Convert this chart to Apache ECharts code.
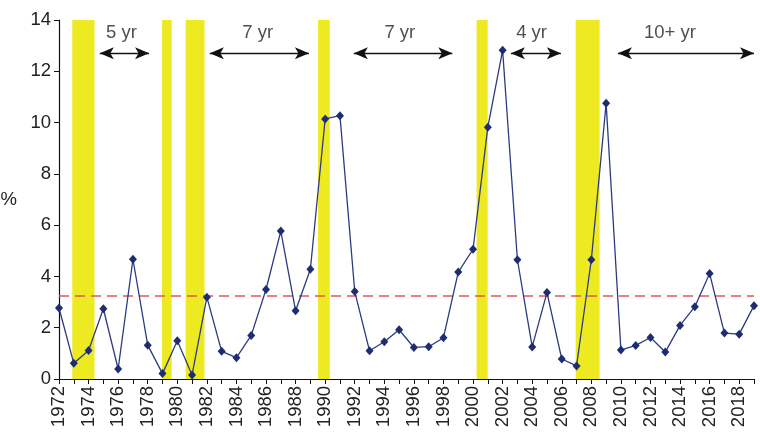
<!DOCTYPE html>
<html><head><meta charset="utf-8">
<script src="https://cdn.jsdelivr.net/npm/echarts@6/dist/echarts.min.js"></script>
<style>html,body{margin:0;padding:0;background:#fff}#c{width:760px;height:434px}</style>
</head><body><div id="c"></div>
<script>
const years = [1972,1973,1974,1975,1976,1977,1978,1979,1980,1981,1982,1983,1984,1985,1986,1987,1988,1989,1990,1991,1992,1993,1994,1995,1996,1997,1998,1999,2000,2001,2002,2003,2004,2005,2006,2007,2008,2009,2010,2011,2012,2013,2014,2015,2016,2017,2018,2019];
const values = [2.77,0.61,1.11,2.74,0.39,4.67,1.32,0.21,1.49,0.16,3.19,1.08,0.83,1.70,3.49,5.77,2.66,4.28,10.14,10.27,3.41,1.10,1.45,1.92,1.23,1.26,1.61,4.17,5.06,9.82,12.82,4.65,1.25,3.37,0.78,0.51,4.65,10.75,1.13,1.31,1.62,1.05,2.09,2.82,4.11,1.79,1.75,2.86];
const bandStarts = [1972.9,1978.97,1980.57,1989.52,2000.24,2006.94];
const bandEnds   = [1974.4,1979.62,1981.84,1990.31,2000.99,2008.56];
const bandTops   = [14,14,14.1,14,14,14.05];
const averageLine = 3.24;
const arrowStarts = [1974.76,1982.2,1991.94,2002.56,2009.8];
const arrowEnds   = [1978.09,1988.9,1998.6,2005.94,2019];
const arrowLevel = 12.7;
const spanLabels = ['5 yr','7 yr','7 yr','4 yr','10+ yr'];
const spanLabelX = [1976.22,1985.44,1995.05,2003.96,2013.32];
const spanLabelY = 13.48;

const FONT = "'Liberation Sans', Arial, sans-serif";
const chart = echarts.init(document.getElementById('c'));
chart.setOption({
  animation:false,
  grid:{left:59,right:6,top:20,bottom:55,containLabel:false,outerBoundsMode:'none'},
  xAxis:{type:'value',min:1972,max:2019,interval:1,
    axisLine:{lineStyle:{color:'#111',width:1.2}},
    axisTick:{show:true,length:5,lineStyle:{color:'#111'}},
    splitLine:{show:false},
    axisLabel:{rotate:90,fontSize:18.5,color:'#222',fontFamily:FONT,margin:7,
      formatter:v=> (v%2===0 && v<2019)? String(v):''}},
  yAxis:{type:'value',min:0,max:14,interval:2,name:'%',nameLocation:'middle',nameRotate:0,nameGap:42,
    nameTextStyle:{fontSize:18.5,color:'#222',fontFamily:FONT},
    axisLine:{show:true,lineStyle:{color:'#111',width:1.2}},
    axisTick:{show:true,length:5,lineStyle:{color:'#111'}},
    splitLine:{show:false},
    axisLabel:{fontSize:18.5,color:'#222',fontFamily:FONT,margin:8}},
  series:[
    {type:'line',data:[],silent:true,clip:false,
      markArea:{silent:true,itemStyle:{color:'#EEEA22'},
        data:bandStarts.map((s,i)=>[{xAxis:s,yAxis:0},{xAxis:bandEnds[i],yAxis:bandTops[i]}])}},
    {type:'line',data:[],silent:true,
      markLine:{silent:true,symbol:'none',label:{show:false},
        lineStyle:{color:'#D95A5A',type:[10,6],width:1.5},
        data:[{yAxis:averageLine}]}},
    {type:'line',data:years.map((y,i)=>[y,values[i]]),symbol:'diamond',symbolSize:[8,9],
      itemStyle:{color:'#1E2C72'},lineStyle:{color:'#2C3A80',width:1.3},z:5},
    {type:'line',data:[],silent:true,clip:false,
      markLine:{silent:true,symbol:['arrow','arrow'],symbolSize:[9,14],label:{show:false},
        lineStyle:{color:'#111',type:'solid',width:1.3},itemStyle:{color:'#111'},
        data:arrowStarts.map((s,i)=>[{xAxis:s,yAxis:arrowLevel},{xAxis:arrowEnds[i],yAxis:arrowLevel}])}},
    {type:'scatter',symbolSize:0,clip:false,silent:true,
      data:spanLabels.map((t,i)=>({name:t,value:[spanLabelX[i],spanLabelY]})),
      label:{show:true,position:'inside',formatter:p=>p.name,fontSize:18.5,color:'#222',fontFamily:FONT}}
  ]
});
</script></body></html>
